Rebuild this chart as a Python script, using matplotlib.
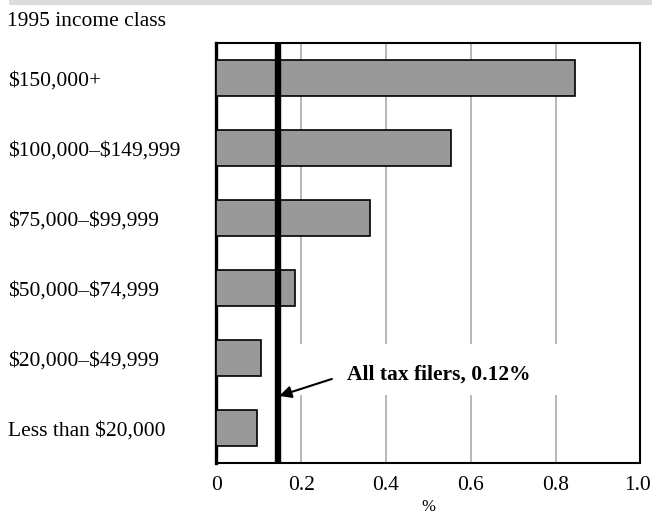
import matplotlib as mpl
mpl.use('agg')
import matplotlib.pyplot as plt
from matplotlib.patches import Rectangle
from matplotlib.transforms import ScaledTranslation

plt.rcParams['font.family'] = ['Liberation Serif', 'DejaVu Serif']
plt.rcParams['text.parse_math'] = False

# data (top to bottom)
classes = ['$150,000+', '$100,000\u2013$149,999', '$75,000\u2013$99,999',
           '$50,000\u2013$74,999', '$20,000\u2013$49,999', 'Less than $20,000']
shares = [0.845, 0.553, 0.363, 0.185, 0.104, 0.095]
all_filers = 0.145
note = 'All tax filers, 0.12%'
xticks = [0, 0.2, 0.4, 0.6, 0.8, 1.0]
xtick_labels = ['0', '0.2', '0.4', '0.6', '0.8', '1.0']

fs = 15.5

fig = plt.figure(figsize=(6.52, 5.14), dpi=100)
ax = fig.add_axes([0.332, 0.099, 0.650, 0.817])

# light grey band at the very top
fig.patches.append(Rectangle((0.014, 0.990), 0.986, 0.010, transform=fig.transFigure,
                             facecolor='#dcdcdc', edgecolor='none'))

pos = list(range(len(classes)))
ax.barh(pos, shares, height=0.52, color='#999999', edgecolor='black', linewidth=1.2, zorder=3)
ax.set_ylim(5.5, -0.5)
ax.set_xlim(0, 1.0)

for x in xticks[1:-1]:
    ax.axvline(x, color='#aaaaaa', linewidth=1.2, zorder=1)

# white box behind the note hides the grid
ax.add_patch(Rectangle((0.16, 3.80), 0.75, 0.73, facecolor='white', edgecolor='none', zorder=2))
ax.axvline(all_filers, color='black', linewidth=4.6, zorder=4)
ax.annotate(note, xy=(all_filers + 0.003, 4.54), xytext=(0.307, 4.23),
            fontsize=fs, fontweight='bold', ha='left', va='center', zorder=5,
            arrowprops=dict(arrowstyle='-|>', color='black', lw=1.5, mutation_scale=18,
                            relpos=(0, 0.5), shrinkA=9, shrinkB=0))

ax.set_yticks(pos)
ax.set_yticklabels(classes, fontsize=fs, ha='left')
ax.tick_params(axis='y', length=0, pad=150)
ax.set_xticks(xticks)
ax.set_xticklabels(xtick_labels, fontsize=fs)
ax.tick_params(axis='x', length=0, pad=9)
last = ax.get_xticklabels()[-1]
last.set_transform(last.get_transform() + ScaledTranslation(-0.03, 0, fig.dpi_scale_trans))
ax.set_xlabel('%', fontsize=12, labelpad=3)

for side in ['top', 'right', 'bottom']:
    ax.spines[side].set_linewidth(1.5)
ax.spines['left'].set_linewidth(2.4)

fig.text(0.011, 0.958, '1995 income class', fontsize=fs, ha='left', va='center')

fig.savefig('out.png', dpi=100)
